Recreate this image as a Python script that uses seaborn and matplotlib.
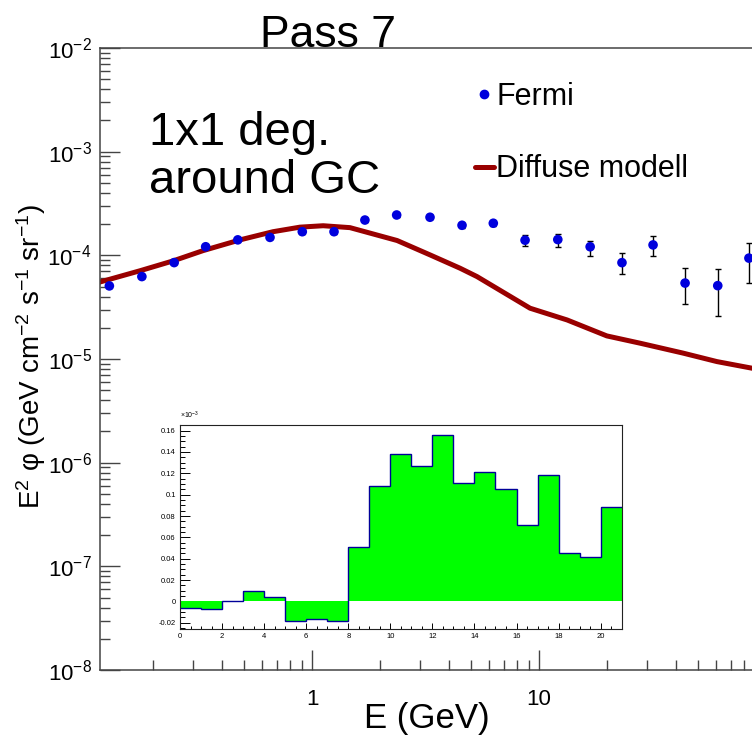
import math
import matplotlib
matplotlib.use("Agg")
import matplotlib.pyplot as plt
import seaborn as sns
import pandas as pd
from matplotlib.ticker import LogLocator, NullFormatter, MultipleLocator, FuncFormatter
from matplotlib.lines import Line2D

# Fermi points (GeV, GeV cm^-2 s^-1 sr^-1) with upper / lower error ends
energy = [0.128, 0.178, 0.247, 0.340, 0.471, 0.653, 0.906, 1.25, 1.71, 2.36, 3.31,
          4.58, 6.29, 8.68, 12.1, 16.8, 23.2, 31.8, 44.0, 61.3, 84.1]
flux = [5.07e-5, 6.24e-5, 8.51e-5, 1.21e-4, 1.41e-4, 1.49e-4, 1.69e-4, 1.69e-4, 2.19e-4,
        2.45e-4, 2.33e-4, 1.95e-4, 2.04e-4, 1.40e-4, 1.42e-4, 1.21e-4, 8.5e-5, 1.26e-4,
        5.4e-5, 5.1e-5, 9.4e-5]
flux_hi = [5.3e-5, 6.5e-5, 8.8e-5, 1.25e-4, 1.46e-4, 1.55e-4, 1.76e-4, 1.77e-4, 2.29e-4,
           2.56e-4, 2.44e-4, 2.05e-4, 2.16e-4, 1.57e-4, 1.60e-4, 1.39e-4, 1.06e-4, 1.54e-4,
           7.5e-5, 7.4e-5, 1.32e-4]
flux_lo = [4.85e-5, 6.0e-5, 8.2e-5, 1.17e-4, 1.36e-4, 1.43e-4, 1.62e-4, 1.61e-4, 2.09e-4,
           2.34e-4, 2.22e-4, 1.85e-4, 1.92e-4, 1.23e-4, 1.21e-4, 9.9e-5, 6.6e-5, 9.9e-5,
           3.4e-5, 2.6e-5, 5.4e-5]

# diffuse model curve
model_energy = [0.114, 0.175, 0.244, 0.331, 0.482, 0.673, 0.885, 1.12, 1.47, 2.37, 3.31,
                4.49, 5.33, 9.13, 13.3, 19.9, 27.9, 43.1, 60.8, 86.8, 100.0]
model_flux = [5.46e-5, 7.11e-5, 8.83e-5, 1.11e-4, 1.41e-4, 1.69e-4, 1.87e-4, 1.93e-4,
              1.85e-4, 1.39e-4, 1.01e-4, 7.51e-5, 6.24e-5, 3.09e-5, 2.38e-5, 1.67e-5,
              1.42e-5, 1.14e-5, 9.44e-6, 8.15e-6, 7.7e-6]

# inset histogram (x10^-3)
bin_edges = list(range(22))
residual = [-0.006, -0.007, 0.0003, 0.010, 0.004, -0.018, -0.0165, -0.018, 0.051, 0.108,
            0.138, 0.127, 0.156, 0.111, 0.121, 0.105, 0.072, 0.118, 0.045, 0.042, 0.088]

sns.set_style("ticks")
plt.rcParams['font.family'] = ['Liberation Sans', 'DejaVu Sans']
plt.rcParams['mathtext.fontset'] = 'custom'
plt.rcParams['mathtext.rm'] = 'Liberation Sans'
plt.rcParams['mathtext.it'] = 'Liberation Sans:italic'
plt.rcParams['mathtext.default'] = 'regular'
plt.rcParams['text.color'] = 'black'
plt.rcParams['axes.labelcolor'] = 'black'

W, H = 752, 746
fig = plt.figure(figsize=(W / 100, H / 100), dpi=100)
ax = fig.add_axes([100 / W, 76 / H, 666 / W, 622 / H])

df_fermi = pd.DataFrame({'E': energy, 'flux': flux})
df_model = pd.DataFrame({'E': model_energy, 'flux': model_flux})

err_lo = [f - l for f, l in zip(flux, flux_lo)]
err_hi = [h - f for f, h in zip(flux, flux_hi)]
ax.errorbar(energy, flux, yerr=[err_lo, err_hi], fmt='none', ecolor='black',
            elinewidth=1.0, capsize=2.5, capthick=1.0, zorder=2)
sns.lineplot(data=df_model, x='E', y='flux', sort=False, color='#990000', lw=3.6, ax=ax,
             zorder=1)
sns.scatterplot(data=df_fermi, x='E', y='flux', s=48, color='#0000dd', edgecolor='none',
                ax=ax, zorder=3)

ax.set_xscale('log')
ax.set_yscale('log')
ax.set_xlim(0.1164, 100)
ax.set_ylim(1e-8, 1e-2)

ax.xaxis.set_major_locator(LogLocator(base=10))
ax.xaxis.set_minor_locator(LogLocator(base=10, subs=range(2, 10)))
ax.xaxis.set_major_formatter(FuncFormatter(lambda v, p: '%g' % v if v < 50 else ''))
ax.xaxis.set_minor_formatter(NullFormatter())
ax.yaxis.set_major_locator(LogLocator(base=10, numticks=10))
ax.yaxis.set_minor_locator(LogLocator(base=10, subs=range(2, 10), numticks=20))
ax.yaxis.set_major_formatter(FuncFormatter(lambda v, p: r'$10^{%d}$' % round(math.log10(v))))
ax.yaxis.set_minor_formatter(NullFormatter())

ax.tick_params(which='both', direction='in', color='#444444', labelcolor='black',
               width=1.0, top=False, right=False)
ax.tick_params(which='major', length=14.5)
ax.tick_params(which='minor', length=7.5)
ax.tick_params(axis='x', which='major', labelsize=16, pad=14)
ax.tick_params(axis='y', which='major', labelsize=16, pad=6)
for s in ax.spines.values():
    s.set_color('#444444')
    s.set_linewidth(1.1)

ax.set_xlabel('E (GeV)', fontsize=25)
ax.xaxis.set_label_coords(0.491, -0.052)
ax.set_ylabel(r'E$^{2}$ φ (GeV cm$^{-2}$ s$^{-1}$ sr$^{-1}$)', fontsize=20)
ax.yaxis.set_label_coords(-0.078, 0.503)

fig.text(328 / W, 1 - 47 / H, 'Pass 7', fontsize=32, ha='center', va='baseline')
fig.text(149 / W, 1 - 145 / H, '1x1 deg.', fontsize=34, ha='left', va='baseline')
fig.text(149 / W, 1 - 193 / H, 'around GC', fontsize=34, ha='left', va='baseline')

handles = [Line2D([], [], marker='o', ls='none', color='#0000dd', markersize=6),
           Line2D([], [], color='#990000', lw=3.6)]
fig.legend(handles, ['Fermi', 'Diffuse modell'], loc='center left',
           bbox_to_anchor=(475 / W, 1 - 133 / H), frameon=False, fontsize=22,
           handlelength=0.62, handletextpad=0.08, labelspacing=1.4,
           borderpad=0, borderaxespad=0)

# inset: difference histogram
ins = fig.add_axes([180 / W, 117 / H, 441.7 / W, 204 / H])
ins.set_facecolor('white')
ins.stairs(residual, bin_edges, baseline=0, fill=True, color='#00ff00', lw=0)
ins.stairs(residual, bin_edges, baseline=None, color='#000099', lw=1.0)
ins.set_xlim(0, 21)
ins.set_ylim(-0.0259, 0.1653)
ins.xaxis.set_major_locator(MultipleLocator(2))
ins.xaxis.set_minor_locator(MultipleLocator(0.5))
ins.yaxis.set_major_locator(MultipleLocator(0.02))
ins.yaxis.set_minor_locator(MultipleLocator(0.005))
ins.xaxis.set_major_formatter(FuncFormatter(lambda v, p: '%g' % v))
ins.yaxis.set_major_formatter(FuncFormatter(lambda v, p: '%g' % round(v, 3)))
ins.tick_params(which='both', direction='in', labelsize=5.5, width=0.7, color='black',
                labelcolor='black', top=False, right=False, pad=3)
ins.tick_params(which='major', length=7)
ins.tick_params(axis='x', which='major', length=4)
ins.tick_params(which='minor', length=3.5)
ins.tick_params(axis='x', which='minor', length=2.5)
for s in ins.spines.values():
    s.set_color('#222222')
    s.set_linewidth(0.8)
fig.text(180 / W, 1 - 421 / H, r'$\times10^{-3}$', fontsize=5, ha='left', va='bottom')

fig.savefig('out.png', dpi=100)
